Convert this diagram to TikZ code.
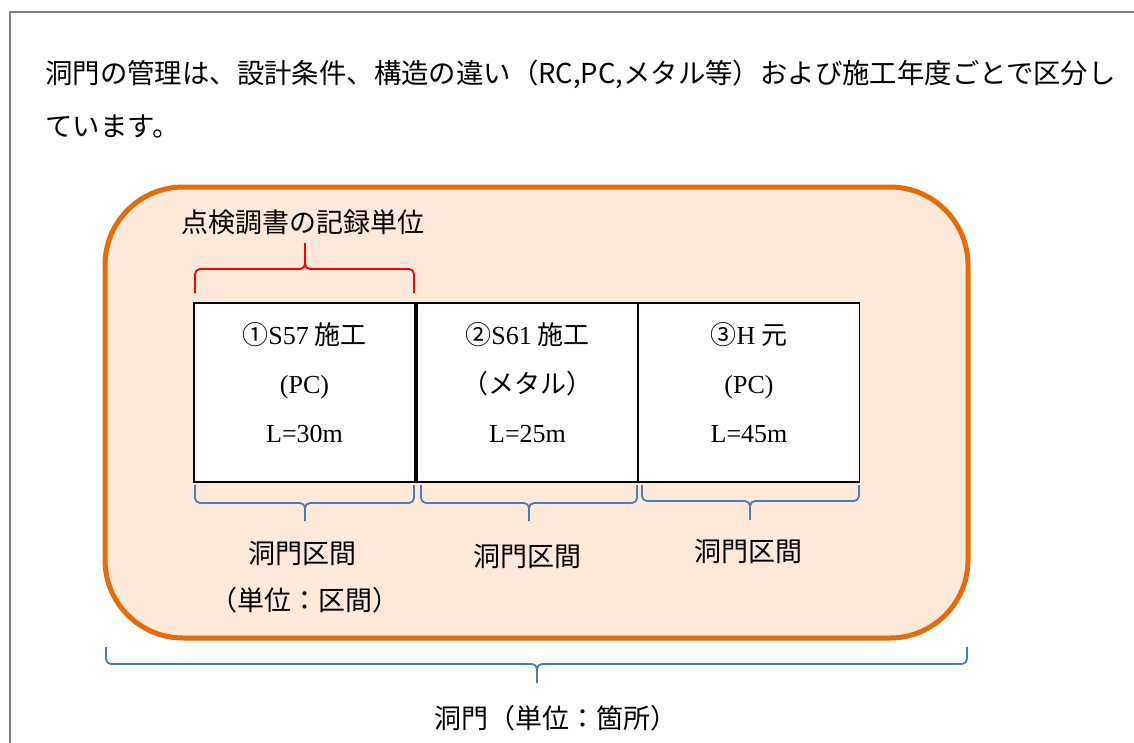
\documentclass[tikz,border=0pt]{standalone}
\usepackage{fontspec}
\setmainfont{Noto Sans CJK JP}
\newfontfamily\lat{Liberation Serif}
\definecolor{frameg}{HTML}{808080}
\definecolor{orline}{HTML}{E46C0A}
\definecolor{orfill}{HTML}{FDE9DA}
\definecolor{bbrace}{HTML}{4A7EBB}
\definecolor{rbrace}{HTML}{FF0000}
\tikzset{
  body/.style={font=\fontsize{27.4}{34}\selectfont, inner sep=0pt},
  lbl/.style={font=\fontsize{27}{32}\selectfont, inner sep=0pt},
  cell/.style={draw=black, line width=1.3pt, fill=white, minimum width=221pt, minimum height=179pt,
    align=center, inner sep=0pt, text depth=20pt, font=\fontsize{26}{49}\selectfont},
  bluebrace/.style={draw=bbrace, line width=1.8pt, rounded corners=5pt},
  redbrace/.style={draw=rbrace, line width=1.8pt, rounded corners=5pt},
}
\begin{document}
\begin{tikzpicture}[x=1pt,y=-1pt]
\useasboundingbox (0,0) rectangle (1134,742);
% frame
\draw[frameg, line width=2pt] (10,745) -- (10,12) -- (1137,12);
% top paragraph
\node[body, anchor=base west] (t1) at (45,83) {洞門の管理は、設計条件、構造の違い（RC,PC,メタル等）および施工年度ごとで区分し};
\node[body, anchor=base west] (t2) at (45,136) {ています。};
% orange rounded area
\draw[orline, fill=orfill, line width=5pt, rounded corners=78pt] (105,187) rectangle (968,638);
% label of red brace
\node[lbl] (rec) at (303,222) {点検調書の記録単位};
\draw[redbrace] (195,293) -- (195,269) -- (305,269) -- (305,243)
                (414,293) -- (414,269) -- (305,269) -- (305,243);
% cells
\node[cell] (b1) at (304.5,392.5) {①{\lat S57} 施工\\{\lat (PC)}\\{\lat L=30m}};
\node[cell] (b2) at (527.5,392.5) {②{\lat S61} 施工\\（メタル）\\{\lat L=25m}};
\node[cell] (b3) at (749,392.5) {③{\lat H} 元\\{\lat (PC)}\\{\lat L=45m}};
% braces under cells
\draw[bluebrace] (195,485) -- (195,503) -- (305,503) -- (305,521)
                 (414,485) -- (414,503) -- (305,503) -- (305,521);
\draw[bluebrace] (421,485) -- (421,503) -- (529,503) -- (529,521)
                 (637,485) -- (637,503) -- (529,503) -- (529,521);
\draw[bluebrace] (642,485) -- (642,501) -- (750,501) -- (750,520)
                 (859,485) -- (859,501) -- (750,501) -- (750,520);
% section labels
\node[lbl] (s1) at (302,553) {洞門区間};
\node[lbl] (s1u) at (305,600) {（単位：区間）};
\node[lbl] (s2) at (527,556) {洞門区間};
\node[lbl] (s3) at (748,551) {洞門区間};
% big brace
\draw[bluebrace] (106,647) -- (106,664) -- (537,664) -- (537,683)
                 (967,647) -- (967,664) -- (537,664) -- (537,683);
\node[lbl] (all) at (556,718) {洞門（単位：箇所）};
\end{tikzpicture}
\end{document}
